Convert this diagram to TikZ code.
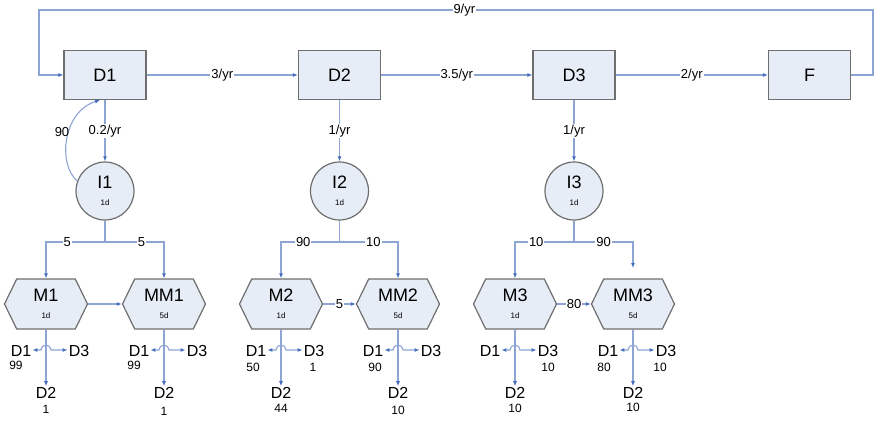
\documentclass[tikz,border=0pt]{standalone}
\usepackage{fontspec}
\setmainfont{Liberation Sans}
\usetikzlibrary{arrows.meta,shapes.symbols,calc}
\definecolor{lineblue}{RGB}{140,165,210}
\definecolor{tipblue}{RGB}{70,110,190}
\definecolor{boxfill}{RGB}{231,237,246}
\definecolor{boxdraw}{RGB}{110,110,110}
\tikzset{
  tipa/.tip={Latex[length=5pt,width=4pt,color=tipblue]},
  lin/.style={draw=lineblue, line width=1.1pt},
  conn/.style={lin, -tipa},
  both/.style={lin, tipa-tipa},
  dbox/.style={rectangle, draw=boxdraw, fill=boxfill, line width=1.2pt, minimum width=82pt, minimum height=49pt, font=\fontsize{18}{18}\selectfont},
  inode/.style={circle, draw=boxdraw, fill=boxfill, line width=1.2pt, minimum size=58pt, inner sep=0pt, align=center, font=\fontsize{18}{17}\selectfont},
  hexa/.style={signal, signal to=east and west, signal pointer angle=128, draw=boxdraw, fill=boxfill, line width=1.2pt, minimum width=83pt, minimum height=50pt, inner sep=0pt, align=center, font=\fontsize{18}{17}\selectfont},
  elab/.style={fill=white, inner sep=1pt, font=\fontsize{13}{13}\selectfont},
  big/.style={font=\fontsize{16}{16}\selectfont, inner sep=1pt},
  num/.style={font=\fontsize{12}{12}\selectfont, inner sep=0pt},
}
\newcommand{\sub}[1]{\\{\fontsize{8}{8}\selectfont #1}}
\begin{document}
\begin{tikzpicture}[x=1pt,y=-1pt]
\useasboundingbox (0,0) rectangle (874,422);
% boxes
\node[dbox] (D1) at (105,75) {D1};
\node[dbox] (D2) at (339.5,75) {D2};
\node[dbox] (D3) at (574,75) {D3};
\node[dbox] (F) at (809.5,75) {F};
% circles
\node[inode] (I1) at (105,191) {I1\sub{1d}};
\node[inode] (I2) at (339.5,191) {I2\sub{1d}};
\node[inode] (I3) at (574,191) {I3\sub{1d}};
% hexagons
\node[hexa] (M1) at (46,304) {M1\sub{1d}};
\node[hexa] (MM1) at (164,304) {MM1\sub{5d}};
\node[hexa] (M2) at (281,304) {M2\sub{1d}};
\node[hexa] (MM2) at (398,304) {MM2\sub{5d}};
\node[hexa] (M3) at (515,304) {M3\sub{1d}};
\node[hexa] (MM3) at (633,304) {MM3\sub{5d}};
% top row
\coordinate (tr) at (873,10);
\coordinate (tl) at (39,10);
\draw[conn] (F.east) -| (tr) -- node[elab,pos=0.49]{9/yr} (tl) |- (D1.west);
\draw[conn] (D1) -- node[elab]{3/yr} (D2);
\draw[conn] (D2) -- node[elab]{3.5/yr} (D3);
\draw[conn] (D3) -- node[elab]{2/yr} (F);
\draw[conn] (D1) -- node[elab]{0.2/yr} (I1);
\draw[conn] (D2) -- node[elab]{1/yr} (I2);
\draw[conn] (D3) -- node[elab]{1/yr} (I3);
\draw[conn] (I1.160) .. controls (58,165) and (62,112) .. ([xshift=-5pt]D1.south);
\node[num, font=\fontsize{13}{13}\selectfont] (l90) at (62,132) {90};
% splits
\coordinate (s1) at (105,242);
\coordinate (s2) at (339.5,242);
\coordinate (s3) at (574,242);
\coordinate (mm3top) at (633,268);
\draw[lin] (I1.south) -- (s1);
\draw[lin] (I2.south) -- (s2);
\draw[lin] (I3.south) -- (s3);
\draw[conn] (s1) -| node[elab,pos=0.32]{5} (M1.north);
\draw[conn] (s1) -| node[elab,pos=0.31]{5} (MM1.north);
\draw[conn] (s2) -| node[elab,pos=0.31]{90} (M2.north);
\draw[conn] (s2) -| node[elab,pos=0.29]{10} (MM2.north);
\draw[conn] (s3) -| node[elab,pos=0.32]{10} (M3.north);
\draw[conn] (s3) -| node[elab,pos=0.25]{90} (mm3top);
% hex to hex
\draw[conn] (M1.east) -- (MM1.west);
\draw[conn] (M2.east) -- node[elab]{5} (MM2.west);
\draw[conn] (M3.east) -- node[elab]{80} (MM3.west);
% outputs
\foreach \h/\x/\nl/\nlx/\nly/\nr/\nrx/\nb/\nby in {
  M1/46/99/16/365//0/1/409,
  MM1/164/99/134/365//0/1/411,
  M2/281/50/253/367/1/313/44/408,
  MM2/398/90/375/367//0/10/410,
  M3/515//0/0/10/548/10/408,
  MM3/633/80/604/367/10/660/10/407}{
  \coordinate (\h c) at (\x,350);
  \node[big] (\h L) at (\x-25,351) {D1};
  \node[big] (\h R) at (\x+33,351) {D3};
  \node[big] (\h B) at (\x,393) {D2};
  \node[num] (\h Lv) at (\nlx,\nly) {\nl};
  \node[num] (\h Rv) at (\nrx,367) {\nr};
  \node[num] (\h Bv) at (\x,\nby) {\nb};
  \draw[conn] (\h.south) -- (\h B.north);
  \draw[both] (\h L.east |- \h c) -- ([xshift=-5pt]\h c) arc[start angle=180,end angle=0,radius=5pt] -- (\h R.west |- \h c);
}
\end{tikzpicture}
\end{document}
